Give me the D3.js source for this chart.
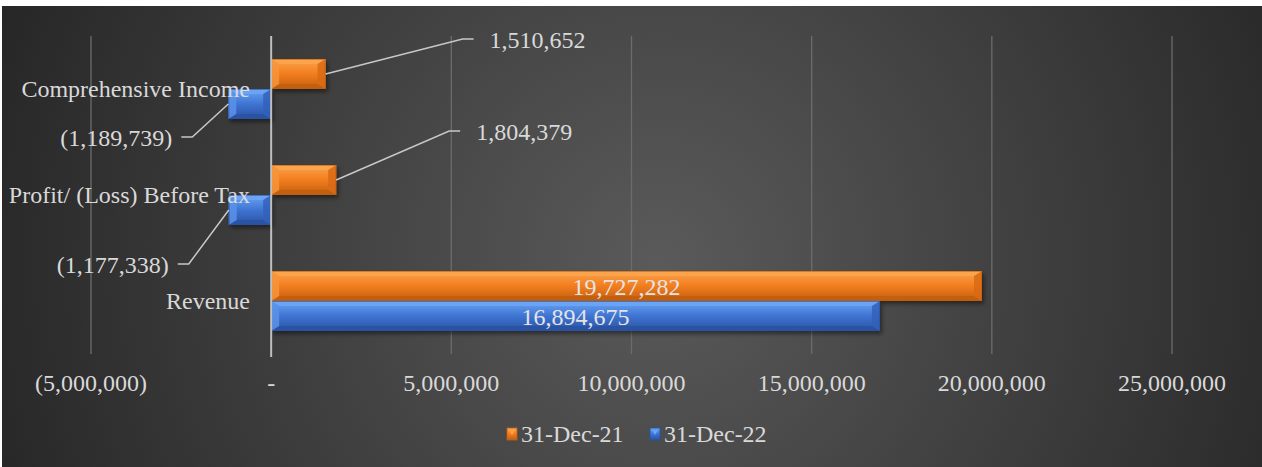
<!DOCTYPE html>
<html><head><meta charset="utf-8">
<script src="https://cdn.jsdelivr.net/npm/d3@7"></script>
<style>body{margin:0;background:#fff}svg{display:block}</style>
</head><body>
<svg id="c" width="1262" height="467"></svg>
<script>
const categories = ["Comprehensive Income", "Profit/ (Loss) Before Tax", "Revenue"];
const seriesNames = ["31-Dec-21", "31-Dec-22"];
const dec21 = [1510652, 1804379, 19727282];
const dec22 = [-1189739, -1177338, 16894675];
const tickValues = [-5000000, 0, 5000000, 10000000, 15000000, 20000000, 25000000];
const tickLabels = ["(5,000,000)", "-", "5,000,000", "10,000,000", "15,000,000", "20,000,000", "25,000,000"];
const valueLabels21 = ["1,510,652", "1,804,379", "19,727,282"];
const valueLabels22 = ["(1,189,739)", "(1,177,338)", "16,894,675"];

// layout config for hand-placed callouts (offsets from bar end): [elbowDx, elbowDy, endDx]
const callouts = {
  "31-Dec-21|Comprehensive Income": [137, -35, 11],
  "31-Dec-21|Profit/ (Loss) Before Tax": [113, -49, 11],
  "31-Dec-22|Comprehensive Income": [-36, 33, -11],
  "31-Dec-22|Profit/ (Loss) Before Tax": [-40, 54, -11]
};

const svg = d3.select("#c");
const W = 1262, H = 467;
const defs = svg.append("defs");
const bg = defs.append("radialGradient").attr("id","bg").attr("gradientUnits","userSpaceOnUse")
  .attr("cx",660).attr("cy",260).attr("r",700);
bg.append("stop").attr("offset","0").attr("stop-color","#5a5a5a");
bg.append("stop").attr("offset","1").attr("stop-color","#272727");
svg.append("rect").attr("x",2).attr("y",6).attr("width",W-2).attr("height",H-6).attr("fill","url(#bg)");

const colors = {"31-Dec-21": {mid:"#f27d1e", top:"#fca54e", bot:"#c25e10", left:"#f89438", right:"#d96a14"},
                "31-Dec-22": {mid:"#3e74d2", top:"#6aa5f6", bot:"#2a52a3", left:"#5a92ea", right:"#3460b8"}};
seriesNames.forEach(s=>{
  const g = defs.append("linearGradient").attr("id","g"+s.replace(/\W/g,"")).attr("x1",0).attr("x2",0).attr("y1",0).attr("y2",1);
  g.append("stop").attr("offset","0").attr("stop-color",colors[s].top);
  g.append("stop").attr("offset","0.5").attr("stop-color",colors[s].mid);
  g.append("stop").attr("offset","1").attr("stop-color",colors[s].bot);
});
const shadow = defs.append("filter").attr("id","sh").attr("x","-10%").attr("y","-30%").attr("width","130%").attr("height","180%");
shadow.append("feDropShadow").attr("dx",2).attr("dy",3).attr("stdDeviation",2).attr("flood-color","#000").attr("flood-opacity",0.45);

const x = d3.scaleLinear().domain([-5000000, 25000000]).range([91, 1172]);
const y0 = d3.scaleBand().domain(categories).range([36, 354]).padding(0);
const y1 = d3.scaleBand().domain(seriesNames).range([23, 23 + 60]).padding(0);

// gridlines
svg.append("g").selectAll("line").data(tickValues.filter(v=>v!==0)).join("line")
  .attr("x1",d=>x(d)).attr("x2",d=>x(d)).attr("y1",36).attr("y2",354)
  .attr("stroke","#6c6c6c").attr("stroke-width",1.3);

const font = "'Liberation Serif','Times New Roman',serif";
// tick labels
svg.append("g").selectAll("text").data(tickValues).join("text")
  .attr("x",d=>x(d)).attr("y",391).attr("text-anchor","middle")
  .attr("font-family",font).attr("font-size",24).attr("fill","#d9d9d9")
  .text((d,i)=>tickLabels[i]);

const data = [];
categories.forEach((c,i)=>{
  data.push({cat:c, s:"31-Dec-21", v:dec21[i], label:valueLabels21[i]});
  data.push({cat:c, s:"31-Dec-22", v:dec22[i], label:valueLabels22[i]});
});

const bars = svg.append("g");
data.forEach(d=>{
  const x0 = Math.min(x(0), x(d.v)), x1b = Math.max(x(0), x(d.v));
  const yt = y0(d.cat) + y1(d.s), h = y1.bandwidth(), w = x1b - x0;
  const c = colors[d.s];
  const g = bars.append("g").attr("filter","url(#sh)");
  g.append("rect").attr("x",x0).attr("y",yt).attr("width",w).attr("height",h).attr("fill","url(#g"+d.s.replace(/\W/g,"")+")");
  const b = Math.min(5, w/3), bs = Math.min(8, w/4);
  const pts = a=>a.map(p=>p.join(",")).join(" ");
  g.append("polygon").attr("points",pts([[x0,yt],[x1b,yt],[x1b-bs,yt+b],[x0+bs,yt+b]])).attr("fill",c.top).attr("opacity",0.9);
  g.append("polygon").attr("points",pts([[x0,yt+h],[x1b,yt+h],[x1b-bs,yt+h-b],[x0+bs,yt+h-b]])).attr("fill",c.bot).attr("opacity",0.95);
  g.append("polygon").attr("points",pts([[x0,yt],[x0+bs,yt+b],[x0+bs,yt+h-b],[x0,yt+h]])).attr("fill",c.left).attr("opacity",0.85);
  g.append("polygon").attr("points",pts([[x1b,yt],[x1b-bs,yt+b],[x1b-bs,yt+h-b],[x1b,yt+h]])).attr("fill",c.right).attr("opacity",0.85);
  g.append("rect").attr("x",x0+0.5).attr("y",yt+0.5).attr("width",Math.max(0,w-1)).attr("height",h-1)
    .attr("fill","none").attr("stroke",c.bot).attr("stroke-width",1).attr("opacity",0.6);
});

// zero axis line
svg.append("line").attr("x1",x(0)).attr("x2",x(0)).attr("y1",36).attr("y2",357)
  .attr("stroke","#bfbfbf").attr("stroke-width",2);

// category labels
svg.append("g").selectAll("text").data(categories).join("text")
  .attr("x",250).attr("y",d=>y0(d)+y0.bandwidth()/2+8).attr("text-anchor","end")
  .attr("font-family",font).attr("font-size",24).attr("fill","#d9d9d9").text(d=>d);

// value labels
const lab = svg.append("g");
data.forEach(d=>{
  const yc = y0(d.cat) + y1(d.s) + y1.bandwidth()/2;
  const key = d.s+"|"+d.cat;
  if (callouts[key]) {
    const [ex, ey, endDx] = callouts[key];
    const xe = x(d.v), yE = yc + ey, xEl = xe + ex, xEnd = xEl + endDx;
    lab.append("polyline").attr("points",`${xe},${yc} ${xEl},${yE} ${xEnd},${yE}`)
      .attr("fill","none").attr("stroke","#c8c8c8").attr("stroke-width",1.5);
    const neg = d.v < 0;
    lab.append("text").attr("x", neg ? xEnd - 9 : xEnd + 16).attr("y", yE + 9)
      .attr("text-anchor", neg ? "end" : "start")
      .attr("font-family",font).attr("font-size",24).attr("fill","#d9d9d9").text(d.label);
  } else {
    lab.append("text").attr("x",(x(0)+x(d.v))/2).attr("y",yc+9).attr("text-anchor","middle")
      .attr("font-family",font).attr("font-size",24).attr("fill","#e4e4e4").text(d.label);
  }
});

// legend
const leg = svg.append("g");
const legX = [507, 650];
seriesNames.forEach((s,i)=>{
  const c = colors[s];
  leg.append("rect").attr("x",legX[i]).attr("y",428).attr("width",10).attr("height",12)
    .attr("fill","url(#g"+s.replace(/\W/g,"")+")").attr("stroke",c.bot).attr("stroke-width",0.8);
  leg.append("polygon").attr("points",`${legX[i]+2},${430} ${legX[i]+8},${430} ${legX[i]+5},${435}`).attr("fill",c.top);
  leg.append("text").attr("x",legX[i]+14).attr("y",442).attr("font-family",font).attr("font-size",24)
    .attr("fill","#d9d9d9").text(s);
});
</script>
</body></html>
